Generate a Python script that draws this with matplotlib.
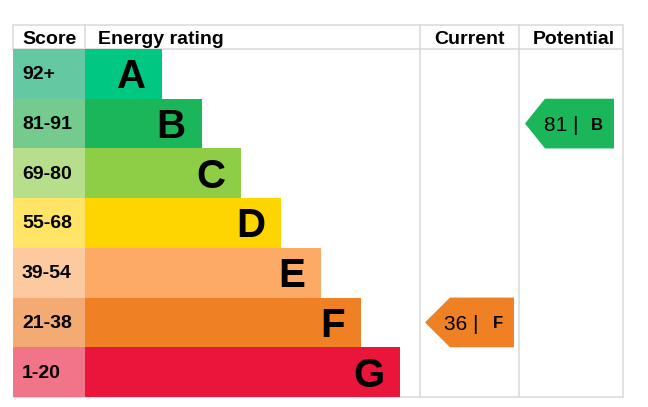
import matplotlib
matplotlib.use("Agg")
import matplotlib.pyplot as plt
from matplotlib.patches import Polygon

# ---- data ----
bands = ["A", "B", "C", "D", "E", "F", "G"]
score_ranges = ["92+", "81-91", "69-80", "55-68", "39-54", "21-38", "1-20"]
bar_colors = ["#00c781", "#1bb55a", "#8dce46", "#ffd500", "#fcaa65", "#ef8023", "#e9153b"]
score_colors = ["#64c8a2", "#74cb8d", "#b7de8a", "#ffe466", "#fdcaa0", "#f4ab73", "#f27489"]
headers = ["Score", "Energy rating", "Current", "Potential"]
current_value, current_band = 36, "F"
potential_value, potential_band = 81, "B"

# ---- layout (pixels) ----
W, H = 648, 407
DPI = 100
left, score_right, cur_left, pot_left, right = 13, 85, 420, 519, 623
top, head_bot, bottom = 25, 49, 397
row_h = (bottom - head_bot) / len(bands)
bar_w0, bar_step = 77, 39.7
grid = "#d9d9d9"
FONT = "Liberation Sans"
TXT = "#000000"

fig = plt.figure(figsize=(W / DPI, H / DPI), dpi=DPI)
ax = fig.add_axes([0, 0, 1, 1])
ax.set_xlim(0, W)
ax.set_ylim(H, 0)
ax.axis("off")

def px(pt):
    return pt * DPI / 72.0

def put(x, yc, s, size, weight="normal", ha="left", z=5):
    # vertically centre capitals on yc
    cap = 0.716 * px(size)
    ax.text(x, yc + cap / 2, s, fontsize=size, fontweight=weight, ha=ha,
            va="baseline", family=FONT, color=TXT, zorder=z)

centers = [head_bot + row_h * (i + 0.5) for i in range(len(bands))]
widths = [bar_w0 + bar_step * i for i in range(len(bands))]

# score cells and rating bars
ax.barh(centers, [score_right - left] * len(bands), left=left, height=row_h,
        color=score_colors, edgecolor="none", zorder=2)
ax.barh(centers, widths, left=score_right, height=row_h,
        color=bar_colors, edgecolor="none", zorder=2)

for i, b in enumerate(bands):
    put(score_right + widths[i] - 16, centers[i], b, 29, "bold", "right")
    put(22, centers[i] - 1.5, score_ranges[i], 14, "bold")

# grid lines
lw = 1.1
for y in (top, head_bot, bottom):
    ax.plot([left, right], [y, y], color=grid, lw=lw, zorder=1, solid_capstyle="butt")
for x in (left, score_right):
    ax.plot([x, x], [top, head_bot], color=grid, lw=lw, zorder=1)
for x in (cur_left, pot_left, right):
    ax.plot([x, x], [top, bottom], color=grid, lw=lw, zorder=1)

# headers
hc = (top + head_bot) / 2
put(22, hc, headers[0], 14, "bold")
put(98, hc, headers[1], 14, "bold")
put((cur_left + pot_left) / 2, hc, headers[2], 14, "bold", "center")
put(574, hc, headers[3], 14, "bold", "center")

def arrow(x_tip, x_body, x_right, band, value):
    i = bands.index(band)
    yc = centers[i]
    y0, y1 = yc - row_h / 2, yc + row_h / 2
    poly = Polygon([(x_tip, yc), (x_body, y0), (x_right, y0), (x_right, y1), (x_body, y1)],
                   closed=True, facecolor=bar_colors[i], edgecolor="none", zorder=3)
    ax.add_patch(poly)
    put(x_right - 36, yc, f"{value} |", 15, "normal", "right")
    put(x_right - 11, yc, band, 12, "bold", "right")

arrow(425, 450, 514, current_band, current_value)
arrow(525, 545, 614, potential_band, potential_value)

fig.savefig("out.png", dpi=DPI)
